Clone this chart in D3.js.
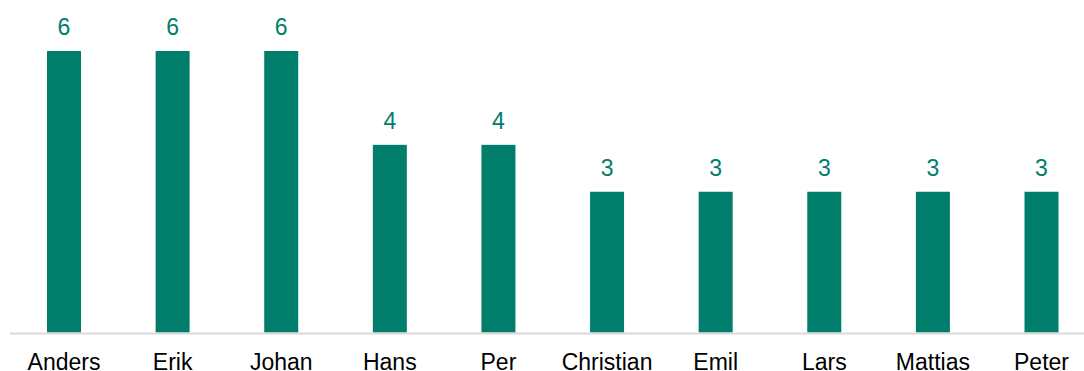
<!DOCTYPE html>
<html>
<head>
<meta charset="utf-8">
<script src="https://cdn.jsdelivr.net/npm/d3@7"></script>
<style>
  body { margin: 0; background: #fff; }
  svg { display: block; }
</style>
</head>
<body>
<div id="chart"></div>
<script>
var names = ["Anders", "Erik", "Johan", "Hans", "Per", "Christian", "Emil", "Lars", "Mattias", "Peter"];
var counts = [6, 6, 6, 4, 4, 3, 3, 3, 3, 3];

var width = 1084, height = 371;
var baseline = 332.5;
var barColor = "#007d6b";

var svg = d3.select("#chart").append("svg")
    .attr("width", width)
    .attr("height", height);

var x = d3.scaleBand()
    .domain(names)
    .range([9.7, 1095.8])
    .paddingInner(0.687)
    .paddingOuter(0.3435);

var y = d3.scaleLinear()
    .domain([0, 6])
    .range([baseline, 51]);

var data = names.map(function (n, i) { return { name: n, value: counts[i] }; });

svg.selectAll(".bar")
    .data(data)
    .enter().append("rect")
    .attr("class", "bar")
    .attr("x", function (d) { return x(d.name); })
    .attr("width", x.bandwidth())
    .attr("y", function (d) { return y(d.value); })
    .attr("height", function (d) { return baseline - y(d.value); })
    .attr("fill", barColor);

// axis line
svg.append("line")
    .attr("x1", 10).attr("x2", width)
    .attr("y1", baseline + 1).attr("y2", baseline + 1)
    .attr("stroke", "#d9d9d9")
    .attr("stroke-width", 2);

svg.selectAll(".val")
    .data(data)
    .enter().append("text")
    .attr("class", "val")
    .attr("x", function (d) { return x(d.name) + x.bandwidth() / 2; })
    .attr("y", function (d) { return y(d.value) - 16; })
    .attr("text-anchor", "middle")
    .attr("font-family", "Liberation Sans, Arial, sans-serif")
    .attr("font-size", 23)
    .attr("fill", barColor)
    .text(function (d) { return d.value; });

svg.selectAll(".cat")
    .data(data)
    .enter().append("text")
    .attr("class", "cat")
    .attr("x", function (d) { return x(d.name) + x.bandwidth() / 2; })
    .attr("y", 369.5)
    .attr("text-anchor", "middle")
    .attr("font-family", "Liberation Sans, Arial, sans-serif")
    .attr("font-size", 23)
    .attr("fill", "#000")
    .text(function (d) { return d.name; });
</script>
</body>
</html>
